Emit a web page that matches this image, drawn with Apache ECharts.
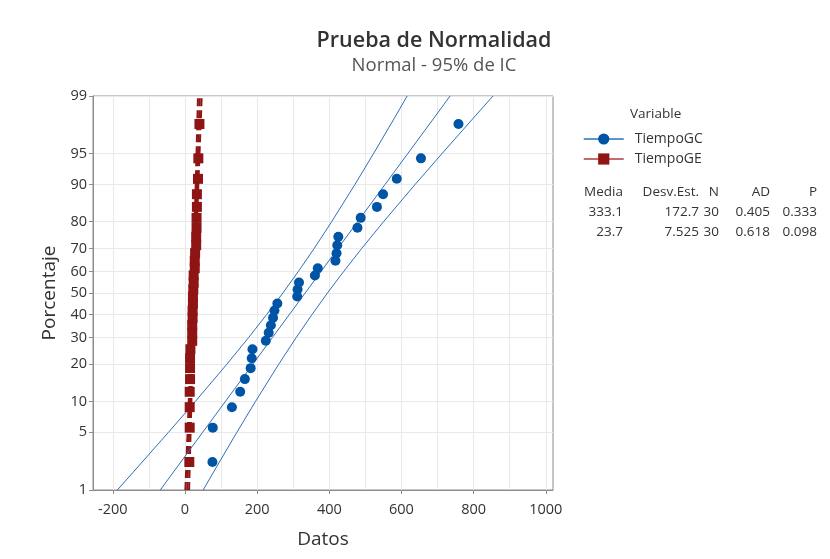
<!DOCTYPE html>
<html><head><meta charset="utf-8">
<script src="https://cdn.jsdelivr.net/npm/echarts@6/dist/echarts.min.js"></script>
<style>html,body{margin:0;padding:0;background:#fff}#c{width:830px;height:559px}</style>
</head><body><div id="c"></div>
<script>
// plotting positions (percent) of the 30 sorted observations
const percentiles = [2.30,5.59,8.88,12.17,15.46,18.75,22.04,25.33,28.62,31.91,35.20,38.49,41.78,45.07,48.36,51.64,54.93,58.22,61.51,64.80,68.09,71.38,74.67,77.96,81.25,84.54,87.83,91.12,94.41,97.70];
const tiempoGC = [76,77,130,153,166,182,185,187,224,232,238,244,248,256,311,312,316,360,368,417,420,422,425,478,487,532,549,587,654,758];
const tiempoGE = [12,13,13,13,14,14,14,15,20,20,20,21,21,22,22,23,24,24,27,27,28,31,31,32,32,33,33,36,37,40];
// fitted line and 95% CI bands, read at these percents
const curvePercents = [1,2,5,10,20,30,40,50,60,70,80,90,95,98,99];
const gcFit   = [-68.6,-21.6,49.0,111.8,187.8,242.5,289.4,333.1,376.8,423.7,478.4,554.4,617.2,687.8,734.8];
const gcLeft  = [-187.6,-130.6,-45.8,28.4,115.9,176.6,226.6,271.3,314.0,357.8,406.5,471.0,522.4,578.8,615.8];
const gcRight = [50.4,87.4,143.8,195.2,259.7,308.4,352.2,394.9,439.6,489.6,550.3,637.8,712.0,796.8,853.8];
const geFit   = [6.20,8.24,11.32,14.06,17.37,19.75,21.79,23.70,25.61,27.65,30.03,33.34,36.08,39.16,41.20];
const geLeft  = [1.02,3.49,7.19,10.42,14.23,16.88,19.06,21.01,22.87,24.77,26.90,29.71,31.95,34.41,36.02];
const geRight = [11.38,12.99,15.45,17.69,20.50,22.63,24.53,26.39,28.34,30.52,33.17,36.98,40.21,43.91,46.38];
// axes
const yTickPercents = [1,5,10,20,30,40,50,60,70,80,90,95,99];
const xTickLabels = [-200,0,200,400,600,800,1000];
const xGridValues = [-200,-100,0,100,200,300,400,500,600,700,800,900,1000];
// stats table
const statsHeader = ['Media','Desv.Est.','N','AD','P'];
const statsGC = ['333.1','172.7','30','0.405','0.333'];
const statsGE = ['23.7','7.525','30','0.618','0.098'];

function probit(p){
  const a=[-3.969683028665376e+01,2.209460984245205e+02,-2.759285104469687e+02,1.383577518672690e+02,-3.066479806614716e+01,2.506628277459239e+00];
  const b=[-5.447609879822406e+01,1.615858368580409e+02,-1.556989798598866e+02,6.680131188771972e+01,-1.328068155288572e+01];
  const c=[-7.784894002430293e-03,-3.223964580411365e-01,-2.400758277161838e+00,-2.549732539343734e+00,4.374664141464968e+00,2.938163982698783e+00];
  const d=[7.784695709041462e-03,3.224671290700398e-01,2.445134137142996e+00,3.754408661907416e+00];
  const pl=0.02425, ph=1-pl; let q,r;
  if(p<pl){q=Math.sqrt(-2*Math.log(p));return (((((c[0]*q+c[1])*q+c[2])*q+c[3])*q+c[4])*q+c[5])/((((d[0]*q+d[1])*q+d[2])*q+d[3])*q+1);}
  if(p<=ph){q=p-0.5;r=q*q;return (((((a[0]*r+a[1])*r+a[2])*r+a[3])*r+a[4])*r+a[5])*q/(((((b[0]*r+b[1])*r+b[2])*r+b[3])*r+b[4])*r+1);}
  q=Math.sqrt(-2*Math.log(1-p));return -(((((c[0]*q+c[1])*q+c[2])*q+c[3])*q+c[4])*q+c[5])/((((d[0]*q+d[1])*q+d[2])*q+d[3])*q+1);
}
const zp = pct => probit(pct/100);
const yTickZ = yTickPercents.map(zp);
const pairs = (xs, ps) => xs.map((v,i)=>[v, zp(ps[i])]);

const FONT = 'Open Sans';
const BLUE = '#0054a6', BLUE_LINE = '#2f6fba', RED = '#8f1414';
const AXIS = '#8c8c8c', GRID = '#e9e9e9', TXT = '#333';

function curve(name, xs, color, dashed){
  return {name, type:'line', data:pairs(xs, curvePercents), symbol:'none', silent:true,
    lineStyle:{color, width: dashed?2:1, type: dashed?[8,4]:'solid'}, z: 2, emphasis:{disabled:true}};
}

const graphics = [{type:'text', x:630, y:114, style:{text:'Variable', fontSize:13.5, fontFamily:FONT, fill:TXT, align:'left', verticalAlign:'middle'}}];
const colX = [623,699,719,770,817];
[[statsHeader,192],[statsGC,212],[statsGE,232]].forEach(([row,y])=>{
  row.forEach((t,i)=>graphics.push({type:'text', x:colX[i], y, style:{text:t, fontSize:13.5, fontFamily:FONT, fill:TXT, align:'right', verticalAlign:'middle'}}));
});

const chart = echarts.init(document.getElementById('c'), null, {renderer:'canvas'});
chart.setOption({
  animation:false,
  textStyle:{fontFamily:FONT},
  title:{text:'Prueba de Normalidad', subtext:'Normal - 95% de IC', left:429, textAlign:'center', top:25, itemGap:4,
    textStyle:{fontSize:21.5, fontWeight:600, color:'#333', fontFamily:FONT},
    subtextStyle:{fontSize:18.5, color:'#555', fontFamily:FONT}},
  grid:{left:93, right:277, top:96, bottom:69, show:true, borderColor:AXIS, borderWidth:1, containLabel:false},
  xAxis:[{type:'value', min:-255, max:1020, position:'bottom',
      axisLine:{show:true, onZero:false, lineStyle:{color:AXIS}},
      axisTick:{show:true, length:4, customValues:xTickLabels, lineStyle:{color:AXIS}},
      axisLabel:{customValues:xTickLabels, fontSize:14.5, color:TXT, margin:12, formatter:v=>String(v)},
      splitLine:{show:false},
      name:'Datos', nameLocation:'middle', nameGap:40, nameTextStyle:{fontSize:19, color:TXT}},
    {type:'value', min:-255, max:1020, position:'top',
      axisLine:{show:false}, axisTick:{show:false, customValues:xGridValues}, axisLabel:{show:false},
      splitLine:{show:true, lineStyle:{color:GRID}}}],
  yAxis:{type:'value', min:zp(1), max:zp(99),
    axisLine:{show:true, onZero:false, lineStyle:{color:AXIS}},
    axisTick:{show:true, length:4, customValues:yTickZ, lineStyle:{color:AXIS}},
    axisLabel:{customValues:yTickZ, fontSize:14.5, color:TXT, margin:6,
      formatter:v=>{const i=yTickZ.findIndex(z=>Math.abs(z-v)<1e-6);return i<0?'':String(yTickPercents[i]);}},
    splitLine:{show:true, lineStyle:{color:GRID}},
    name:'Porcentaje', nameLocation:'middle', nameGap:32, nameTextStyle:{fontSize:19, color:TXT}},
  legend:{orient:'vertical', left:578, top:127, itemWidth:40, itemHeight:14, itemGap:6,
    textStyle:{fontSize:14, color:TXT, padding:[0,0,0,6]},
    data:[{name:'TiempoGC', lineStyle:{color:BLUE_LINE, width:1.5, opacity:1}},
          {name:'TiempoGE', lineStyle:{color:'#b03a3a', width:1.5, opacity:1}}]},
  graphic:graphics,
  series:[
    curve('geL', geLeft, RED, true), curve('geF', geFit, RED, true), curve('geR', geRight, RED, true),
    curve('gcL', gcLeft, BLUE_LINE, false), curve('gcF', gcFit, BLUE_LINE, false), curve('gcR', gcRight, BLUE_LINE, false),
    {name:'TiempoGE', type:'line', data:pairs(tiempoGE, percentiles), symbol:'rect', symbolSize:10, showAllSymbol:true,
      itemStyle:{color:RED}, lineStyle:{width:0}, z:4, emphasis:{disabled:true}},
    {name:'TiempoGC', type:'line', data:pairs(tiempoGC, percentiles), symbol:'circle', symbolSize:10, showAllSymbol:true,
      itemStyle:{color:BLUE}, lineStyle:{width:0}, z:5, emphasis:{disabled:true}}
  ]
});
</script></body></html>
